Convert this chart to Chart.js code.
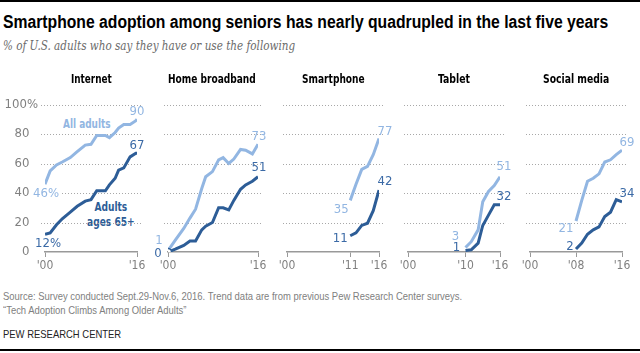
<!DOCTYPE html>
<html>
<head>
<meta charset="utf-8">
<script src="https://cdn.jsdelivr.net/npm/chart.js@4.4.1/dist/chart.umd.min.js"></script>
<style>
  body { margin: 0; background: #fff; }
  #wrap { position: relative; width: 640px; height: 353px; overflow: hidden; background: #fff;
          font-family: "DejaVu Sans Condensed", "Liberation Sans", Arial, sans-serif; }
  .abs { position: absolute; white-space: nowrap; transform-origin: 0 0; }
  .rule { position: absolute; left: 0; width: 640px; height: 1.5px; background: #000; }
  #title { left: 3px; top: 12px; font-size: 18px; font-weight: bold; color: #000;
           font-family: "Liberation Sans", Arial, sans-serif; }
  #subtitle { left: 3px; top: 38px; font-size: 12.5px; font-style: italic; color: #6b6b6b;
              font-family: "DejaVu Serif", "Liberation Serif", serif; }
  .ptitle { top: 72px; font-size: 12px; font-weight: bold; color: #000; }
  .note { font-size: 11px; color: #808080; left: 3px; font-family: "Liberation Sans", Arial, sans-serif; }
  .ann { font-size: 12px; font-weight: bold; text-align: center; line-height: 15px; }
  canvas { position: absolute; top: 85px; }
</style>
</head>
<body>
<div id="wrap">
  <div class="rule" style="top:0"></div>
  <div id="title" class="abs" data-w="605">Smartphone adoption among seniors has nearly quadrupled in the last five years</div>
  <div id="subtitle" class="abs" data-w="292">% of U.S. adults who say they have or use the following</div>

  <div class="abs ann" data-c="87" data-w="48" style="top:117px; color:#92b6e2">All adults</div>
  <div class="abs ann" data-c="111" data-w="48" style="top:200px; color:#2d5d97">Adults<br>ages 65+</div>

  <div id="source" class="abs note" style="top:290px">Source: Survey conducted Sept.29-Nov.6, 2016. Trend data are from previous Pew Research Center surveys.</div>
  <div class="abs note foot" style="top:304px">“Tech Adoption Climbs Among Older Adults”</div>
  <div class="abs note foot" style="top:328px; color:#222">PEW RESEARCH CENTER</div>
  <div class="rule" style="top:349px"></div>
</div>
<script>
// panel titles
var panelNames = ['Internet', 'Home broadband', 'Smartphone', 'Tablet', 'Social media'];

// survey dates (fractional years) and % values per panel
var internetYears = [2000, 2000.9, 2002, 2003, 2004.4, 2005.6, 2007, 2008, 2009, 2010.5, 2011.2, 2012.2, 2012.8, 2013.7, 2014.8, 2015.8, 2016];
var internetAll = [46, 55, 59, 61, 64, 68, 72.5, 73, 79, 79, 77.5, 81, 84, 86.5, 86.5, 89, 90];
var internetSeniors = [12, 13, 18.5, 22.5, 27, 31, 34.5, 35.5, 41.5, 41.5, 45.5, 50, 55.5, 57, 64.5, 67, 67];

var broadbandYears = [2000, 2001.3, 2002.8, 2003.9, 2004.9, 2006, 2006.7, 2007.9, 2009, 2009.8, 2010.8, 2011.7, 2012.9, 2013.8, 2015, 2016];
var broadbandAll = [1, 8, 16, 23, 29, 43, 51, 54.5, 62.5, 64, 60, 63, 69.5, 69, 66.5, 73];
var broadbandSeniors = [0, 2, 4.5, 7.5, 7.5, 15, 17.5, 20, 30, 30, 28.5, 35, 42.5, 45.5, 48, 51];

var smartphoneYears = [2011, 2012, 2013, 2014, 2015, 2016];
var smartphoneAll = [35, 46, 56, 58, 66, 77];
var smartphoneSeniors = [11, 13, 18, 19.5, 28, 42];

var tabletYears = [2010, 2011, 2012.2, 2013, 2014, 2015, 2016];
var tabletAll = [3, 7, 15, 34, 41, 45, 51];
var tabletSeniors = [1, 1.5, 6, 18, 25, 32, 32];

var socialYears = [2008, 2009, 2010, 2011, 2012, 2013, 2014, 2015, 2016];
var socialAll = [21, 35, 48, 50, 53, 61, 62.5, 66, 69];
var socialSeniors = [2, 6, 12, 15, 17, 24, 27, 35.5, 34];

// tick labels
var xTickYears = [[2000, 2016], [2000, 2016], [2000, 2011, 2016], [2000, 2010, 2016], [2000, 2008, 2016]];
var yTicks = [0, 20, 40, 60, 80, 100];

var panels = [
    [internetYears, internetAll, internetSeniors],
    [broadbandYears, broadbandAll, broadbandSeniors],
    [smartphoneYears, smartphoneAll, smartphoneSeniors],
    [tabletYears, tabletAll, tabletSeniors],
    [socialYears, socialAll, socialSeniors]
];

// layout (pixels)
var plotLeft = [45, 167.5, 287.3, 408.3, 530];
var plotRight = [137, 257, 379, 500, 621.7];
var titleWidths = [41, 88, 63, 32, 66];
var LIGHT = '#92b6e2', DARK = '#2d5d97', DARKTEXT = '#3b6aa6';
// label offsets from first/last point: [dx, dy, white box]
var labelOffsets = [
    { allStart: [1, 9, true], senStart: [3, 9], allEnd: [0, -8], senEnd: [0, -8] },
    { allStart: [-9, -10], senStart: [-10, 2], allEnd: [1, -8], senEnd: [1, -9] },
    { allStart: [-9, 9], senStart: [-10, 3], allEnd: [6, -7], senEnd: [6, -8] },
    { allStart: [-10, -11], senStart: [-9, -3], allEnd: [4, -10], senEnd: [4, -8] },
    { allStart: [-10, 8], senStart: [-6, -2], allEnd: [5, -8], senEnd: [5, -8] }
];

Chart.defaults.font.family = '"DejaVu Sans Condensed", "Liberation Sans", Arial, sans-serif';

var decor = {
    id: 'decor',
    beforeDatasetsDraw: function(chart) {
        var ctx = chart.ctx, area = chart.chartArea, ys = chart.scales.y;
        ctx.save();
        ctx.strokeStyle = '#a8a8a8';
        ctx.lineWidth = 1;
        ctx.setLineDash([1, 2]);
        yTicks.forEach(function(v) {
            if (v === 0) return;
            var y = Math.round(ys.getPixelForValue(v)) + 0.5;
            ctx.beginPath();
            ctx.moveTo(area.left - 4, y);
            ctx.lineTo(area.right + 4, y);
            ctx.stroke();
        });
        ctx.restore();
    },
    afterDatasetsDraw: function(chart) {
        var ctx = chart.ctx;
        var p = chart.options.plugins.decor.panel;
        var off = labelOffsets[p];
        ctx.save();
        ctx.font = '13px ' + Chart.defaults.font.family;
        ctx.textAlign = 'center';
        ctx.textBaseline = 'middle';
        chart.data.datasets.forEach(function(ds, i) {
            var pts = chart.getDatasetMeta(i).data;
            var isAll = ds.role === 'all';
            var vals = ds.data;
            var items = [
                [pts[0], vals[0].y, isAll ? off.allStart : off.senStart, true],
                [pts[pts.length - 1], vals[vals.length - 1].y, isAll ? off.allEnd : off.senEnd, false]
            ];
            items.forEach(function(it) {
                var txt = String(it[1]) + (p === 0 && it[3] ? '%' : '');
                var x = it[0].x + it[2][0], y = it[0].y + it[2][1];
                if (it[2][2]) {
                    var w = ctx.measureText(txt).width;
                    ctx.fillStyle = '#fff';
                    ctx.fillRect(x - w / 2 - 2, y - 6, w + 4, 12);
                }
                ctx.fillStyle = isAll ? LIGHT : DARKTEXT;
                ctx.fillText(txt, x, y);
            });
        });
        ctx.restore();
    }
};

var wrap = document.getElementById('wrap');

panels.forEach(function(pd, p) {
    var years = pd[0];
    var canvas = document.createElement('canvas');
    var padL = p === 0 ? 0 : 30, padR = 25;
    var left = p === 0 ? 0 : plotLeft[p] - padL;
    var yAxisW = p === 0 ? 45 : 0;
    canvas.width = Math.round(plotRight[p] - plotLeft[p] + padL + padR + yAxisW);
    canvas.height = 187;
    canvas.style.left = left + 'px';
    wrap.appendChild(canvas);

    var t = document.createElement('div');
    t.className = 'abs ptitle';
    t.setAttribute('data-c', (plotLeft[p] + plotRight[p]) / 2);
    t.setAttribute('data-w', titleWidths[p]);
    t.textContent = panelNames[p];
    wrap.appendChild(t);

    function pts(vals) {
        return vals.map(function(v, i) { return { x: years[i], y: v }; });
    }

    new Chart(canvas.getContext('2d'), {
        type: 'line',
        data: {
            datasets: [{
                role: 'senior',
                data: pts(pd[2]),
                borderColor: DARK,
                borderWidth: 3,
                pointRadius: function(c) { return (p === 1 && c.dataIndex === 0) ? 3.5 : 0; },
                pointBackgroundColor: '#fff',
                pointBorderColor: DARK,
                pointBorderWidth: 1.5,
                tension: 0
            }, {
                role: 'all',
                data: pts(pd[1]),
                borderColor: LIGHT,
                borderWidth: 3,
                pointRadius: 0,
                tension: 0
            }]
        },
        options: {
            responsive: false,
            animation: false,
            layout: { padding: { top: 19.5, left: padL, right: padR, bottom: 0 } },
            plugins: { legend: { display: false }, tooltip: { enabled: false }, decor: { panel: p } },
            scales: {
                x: {
                    type: 'linear',
                    min: 2000,
                    max: 2016,
                    afterBuildTicks: function(s) {
                        s.ticks = xTickYears[p].map(function(v) { return { value: v }; });
                    },
                    afterFit: function(s) { s.height = 20; },
                    grid: { drawOnChartArea: false, drawTicks: true, tickLength: 5, color: '#999', lineWidth: 1 },
                    border: { display: true, color: '#999', width: 1.5 },
                    ticks: {
                        autoSkip: false, maxRotation: 0, padding: 2,
                        color: '#808080', font: { size: 12 },
                        callback: function(v) { return "'" + String(v).slice(2); }
                    }
                },
                y: {
                    display: p === 0,
                    min: 0,
                    max: 100,
                    afterBuildTicks: function(s) {
                        s.ticks = yTicks.map(function(v) { return { value: v }; });
                    },
                    afterFit: function(s) { s.width = yAxisW; },
                    grid: { display: false, drawTicks: false },
                    border: { display: false },
                    ticks: {
                        padding: 7, color: '#808080', font: { size: 13 },
                        callback: function(v) { return v === 100 ? '100%' : v + '\u2007\u200a'; }
                    }
                }
            }
        },
        plugins: [decor]
    });
});

// squeeze the html texts to the widths seen in the picture
Array.prototype.forEach.call(document.querySelectorAll('[data-w]'), function(el) {
    var target = parseFloat(el.getAttribute('data-w'));
    var natural = el.offsetWidth;
    var k = Math.min(1, target / natural);
    if (el.hasAttribute('data-c')) {
        el.style.left = (parseFloat(el.getAttribute('data-c')) - natural * k / 2) + 'px';
    }
    el.style.transform = 'scaleX(' + k + ')';
});
// footer lines share the source line's squeeze
var src = document.getElementById('source');
var kSrc = Math.min(1, 459 / src.offsetWidth);
src.style.transform = 'scaleX(' + kSrc + ')';
Array.prototype.forEach.call(document.querySelectorAll('.foot'), function(el) {
    el.style.transform = 'scaleX(' + kSrc + ')';
});
</script>
</body>
</html>
